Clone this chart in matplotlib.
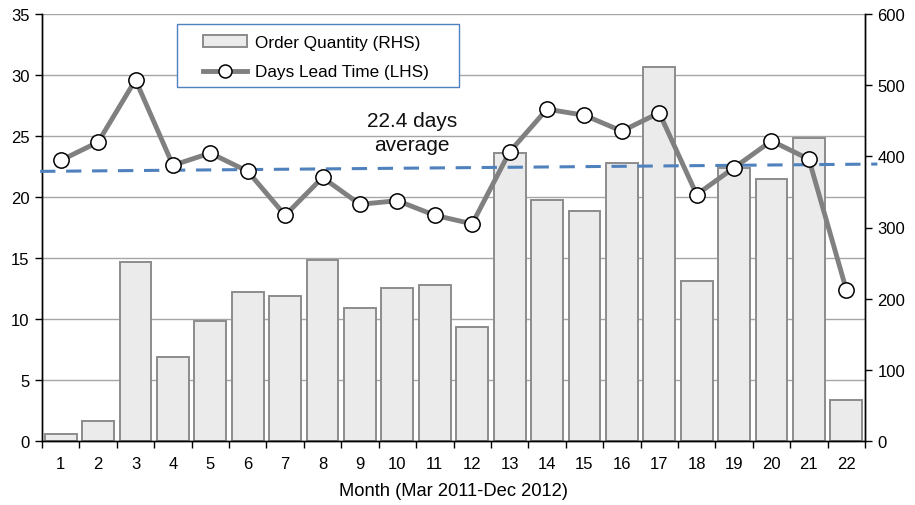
import matplotlib
matplotlib.use("Agg")
import matplotlib.pyplot as plt
from matplotlib.patches import Rectangle
import numpy as np

plt.rcParams['font.family'] = ['Liberation Sans', 'DejaVu Sans']

# Monthly data, Mar 2011 - Dec 2012
months = list(range(1, 23))
order_qty = [10, 28, 252, 118, 169, 209, 204, 255, 187, 215, 219, 160,
             404, 338, 323, 391, 525, 225, 383, 368, 426, 58]
lead_days = [23.0, 24.5, 29.6, 22.6, 23.6, 22.1, 18.5, 21.6, 19.4, 19.7, 18.5, 17.8,
             23.7, 27.2, 26.7, 25.4, 26.9, 20.2, 22.4, 24.6, 23.1, 12.4]
avg_line = [22.1, 22.7]          # start / end of the average reference line (mean 22.4)
avg_label = "22.4 days\naverage"
lead_ticks = list(range(0, 36, 5))
qty_ticks = list(range(0, 601, 100))

LEAD_MAX, QTY_MAX = 35, 600
W, H = 915, 506

fig = plt.figure(figsize=(W / 100, H / 100), dpi=100)
ax_q = fig.add_axes([42 / W, 64 / H, 823 / W, 427 / H])
ax_d = ax_q.twinx()

# back axes: bars on the right-hand scale
ax_q.set_xlim(0.5, 22.5)
ax_q.set_ylim(0, QTY_MAX)
for v in lead_ticks[1:]:
    ax_q.axhline(v * QTY_MAX / LEAD_MAX, color='#a6a6a6', lw=1.0, zorder=0)
bars = ax_q.bar(months, order_qty, width=0.85, color='#ebebeb', edgecolor='#8c8c8c',
                linewidth=1.4, zorder=2, label='Order Quantity (RHS)')

# front axes: lead time on the left-hand scale
ax_d.set_ylim(0, LEAD_MAX)
ax_d.plot([0.45, 22.83], avg_line, color='#4f81bd', lw=2.2, dashes=(5, 3.5),
          zorder=3, clip_on=False)
line, = ax_d.plot(months, lead_days, color='#808080', lw=3.5, marker='o',
                  markersize=11, markerfacecolor='white', markeredgecolor='black',
                  markeredgewidth=1.1, zorder=4, label='Days Lead Time (LHS)')
ax_d.text(10.39, 25.3, avg_label, ha='center', va='center', multialignment='center',
          fontsize=15, color='#111111', zorder=5, linespacing=1.3)

# axis placement: lead time on the left, quantity on the right
ax_d.yaxis.tick_left()
ax_d.yaxis.set_label_position('left')
ax_q.yaxis.tick_right()
ax_d.set_yticks(lead_ticks)
ax_q.set_yticks(qty_ticks)

for a in (ax_q, ax_d):
    a.spines['top'].set_visible(False)
    for s in ('left', 'right', 'bottom'):
        a.spines[s].set_color('black')
        a.spines[s].set_linewidth(1.0)
    a.tick_params(axis='y', direction='out', length=5, width=1, labelsize=12, pad=4)

# month labels centered, tick marks at category boundaries
ax_q.set_xticks(np.arange(0.5, 23, 1.0))
ax_q.set_xticklabels([])
ax_q.set_xticks(months, minor=True)
ax_q.set_xticklabels([str(m) for m in months], minor=True)
ax_q.tick_params(axis='x', which='major', direction='out', length=5, width=1)
ax_q.tick_params(axis='x', which='minor', length=0, labelsize=12, pad=11)
ax_q.set_xlabel('Month (Mar 2011-Dec 2012)', fontsize=13.2, labelpad=8)

# legend box with a thin blue border
ax_d.add_patch(Rectangle((177 / W, 1 - 88 / H), 282 / W, 63 / H, transform=fig.transFigure,
                         facecolor='white', edgecolor='#4f81bd', linewidth=1.0,
                         zorder=9, clip_on=False))
leg = ax_d.legend([bars, line], ['Order Quantity (RHS)', 'Days Lead Time (LHS)'],
                  loc='upper left', bbox_to_anchor=(203 / W, 1 - 36 / H),
                  bbox_transform=fig.transFigure, borderaxespad=0, borderpad=0,
                  frameon=False, fontsize=12.3, handlelength=2.57, handleheight=0.62,
                  labelspacing=0.84, handletextpad=0.47, markerscale=0.85)
leg.set_zorder(10)

fig.savefig('out.png', dpi=100)
